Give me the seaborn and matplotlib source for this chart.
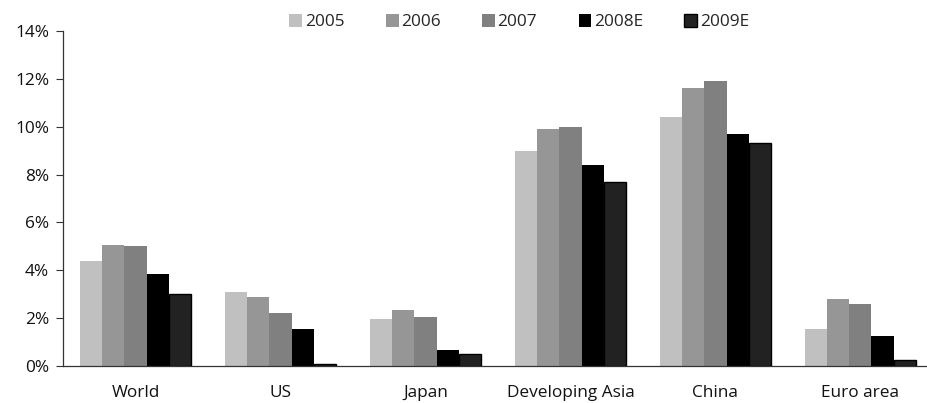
import matplotlib
matplotlib.use("Agg")
import matplotlib.pyplot as plt
import seaborn as sns
import pandas as pd
from matplotlib.ticker import FuncFormatter, FixedLocator
from matplotlib.patches import Patch

categories = ["World", "US", "Japan", "Developing Asia", "China", "Euro area"]
years = ["2005", "2006", "2007", "2008E", "2009E"]
v2005 = [4.4, 3.1, 1.95, 9.0, 10.4, 1.55]
v2006 = [5.05, 2.9, 2.35, 9.9, 11.6, 2.8]
v2007 = [5.0, 2.2, 2.05, 10.0, 11.9, 2.6]
v2008 = [3.85, 1.55, 0.65, 8.4, 9.7, 1.25]
v2009 = [3.0, 0.1, 0.5, 7.7, 9.3, 0.25]
colors = ["#c0c0c0", "#969696", "#808080", "#000000", "#222222"]

series = [v2005, v2006, v2007, v2008, v2009]
rows = []
for y, vals in zip(years, series):
    for c, v in zip(categories, vals):
        rows.append({"Region": c, "Year": y, "Value": v})
df = pd.DataFrame(rows)

sns.set_theme(style="white")
plt.rcParams['font.family'] = ['Open Sans', 'DejaVu Sans']

fig = plt.figure(figsize=(9.27, 4.03), dpi=100)
ax = fig.add_axes([0.068, 0.092, 0.932, 0.831])

sns.barplot(data=df, x="Region", y="Value", hue="Year", order=categories,
            hue_order=years, palette=colors, width=0.77, saturation=1,
            ax=ax, legend=False)
for i, cont in enumerate(ax.containers):
    for p in cont:
        if i == 4:
            p.set_edgecolor("black")
            p.set_linewidth(1.0)
        else:
            p.set_linewidth(0)

ax.set_ylim(0, 14)
ax.set_xlim(-0.5, 5.46)
ax.set_yticks(range(0, 15, 2))
ax.yaxis.set_major_formatter(FuncFormatter(lambda v, p: f"{int(v)}%"))
ax.xaxis.set_minor_locator(FixedLocator([-0.5 + i for i in range(7)]))
ax.tick_params(axis="x", which="major", length=0, pad=14, labelsize=12.4, colors="#111111")
ax.tick_params(axis="x", which="minor", length=5, width=0.8, direction="out", color="#333333")
ax.tick_params(axis="y", which="major", length=5, width=0.8, direction="out", left=True,
               labelsize=12.4, colors="#111111", pad=5)
ax.tick_params(axis="y", color="#333333")
ax.set_xlabel("")
ax.set_ylabel("")
for s in ["top", "right"]:
    ax.spines[s].set_visible(False)
for s in ["left", "bottom"]:
    ax.spines[s].set_color("#333333")
    ax.spines[s].set_linewidth(0.9)

handles = [Patch(facecolor=c, edgecolor=("black" if i == 4 else c), linewidth=(1 if i == 4 else 0))
           for i, c in enumerate(colors)]
fig.legend(handles, years, loc="center", bbox_to_anchor=(0.56, 0.945), ncol=5,
           frameon=False, fontsize=12.4, handlelength=0.75, handleheight=0.75,
           handletextpad=0.15, columnspacing=2.4)

fig.savefig("out.png", dpi=100)
